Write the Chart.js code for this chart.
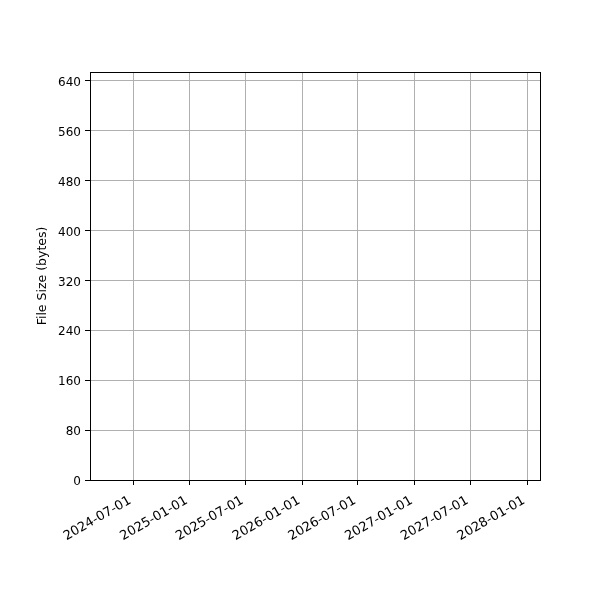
<!DOCTYPE html>
<html>
<head>
<meta charset="utf-8">
<script src="https://cdn.jsdelivr.net/npm/chart.js@4.4.1/dist/chart.umd.min.js"></script>
<style>
  html, body { margin: 0; padding: 0; background: #fff; }
  #wrap { width: 600px; height: 600px; }
</style>
</head>
<body>
<div id="wrap"><canvas id="chart" width="600" height="600"></canvas></div>
<script>
// no files recorded: the series is empty
const fileDates = [];
const fileSizes = [];

const dateTicks = ["2024-07-01", "2025-01-01", "2025-07-01", "2026-01-01",
                   "2026-07-01", "2027-01-01", "2027-07-01", "2028-01-01"];
const sizeTicks = [0, 80, 160, 240, 320, 400, 480, 560, 640];
const xRange = ["2024-02-12", "2028-02-12"];
const yRange = [0, 654.4];

const toMs = (s) => Date.parse(s + "T00:00:00Z");
const fmt = (v) => new Date(v).toISOString().slice(0, 10);

// matplotlib-style box round the plot area
const frame = {
  id: "frame",
  afterDraw(chart) {
    const a = chart.chartArea, ctx = chart.ctx;
    ctx.save();
    ctx.strokeStyle = "#000";
    ctx.lineWidth = 1;
    ctx.strokeRect(Math.round(a.left) + 0.5, Math.round(a.top) + 0.5,
                   Math.round(a.right - a.left), Math.round(a.bottom - a.top));
    ctx.restore();
  }
};

new Chart(document.getElementById("chart"), {
  type: "scatter",
  data: {
    datasets: [{
      label: "File Size",
      data: fileDates.map((d, i) => ({ x: toMs(d), y: fileSizes[i] })),
      backgroundColor: "#1f77b4"
    }]
  },
  options: {
    responsive: false,
    animation: false,
    layout: { padding: { top: 72, right: 60, left: 35, bottom: 0 } },
    plugins: { legend: { display: false }, tooltip: { enabled: false } },
    scales: {
      x: {
        type: "linear",
        min: toMs(xRange[0]),
        max: toMs(xRange[1]),
        afterBuildTicks: (s) => { s.ticks = dateTicks.map((d) => ({ value: toMs(d) })); },
        afterFit: (s) => { s.height = 120; },
        grid: { color: "#b0b0b0", lineWidth: 1, tickColor: "#000", tickLength: 5 },
        border: { color: "#000", width: 1 },
        ticks: {
          autoSkip: false,
          maxRotation: 30,
          minRotation: 30,
          color: "#000",
          padding: 8,
          labelOffset: -3,
          font: { family: "DejaVu Sans", size: 13 },
          callback: (v) => fmt(v)
        }
      },
      y: {
        min: yRange[0],
        max: yRange[1],
        afterBuildTicks: (s) => { s.ticks = sizeTicks.map((v) => ({ value: v })); },
        afterFit: (s) => { s.width = 55; },
        grid: { color: "#b0b0b0", lineWidth: 1, tickColor: "#000", tickLength: 5 },
        border: { color: "#000", width: 1 },
        title: {
          display: true,
          text: "File Size (bytes)",
          color: "#000",
          font: { family: "DejaVu Sans", size: 12.5 },
          padding: { top: 0, bottom: 6 }
        },
        ticks: {
          color: "#000",
          padding: 4,
          labelOffset: 2,
          font: { family: "DejaVu Sans", size: 12 }
        }
      }
    }
  },
  plugins: [frame]
});
</script>
</body>
</html>
